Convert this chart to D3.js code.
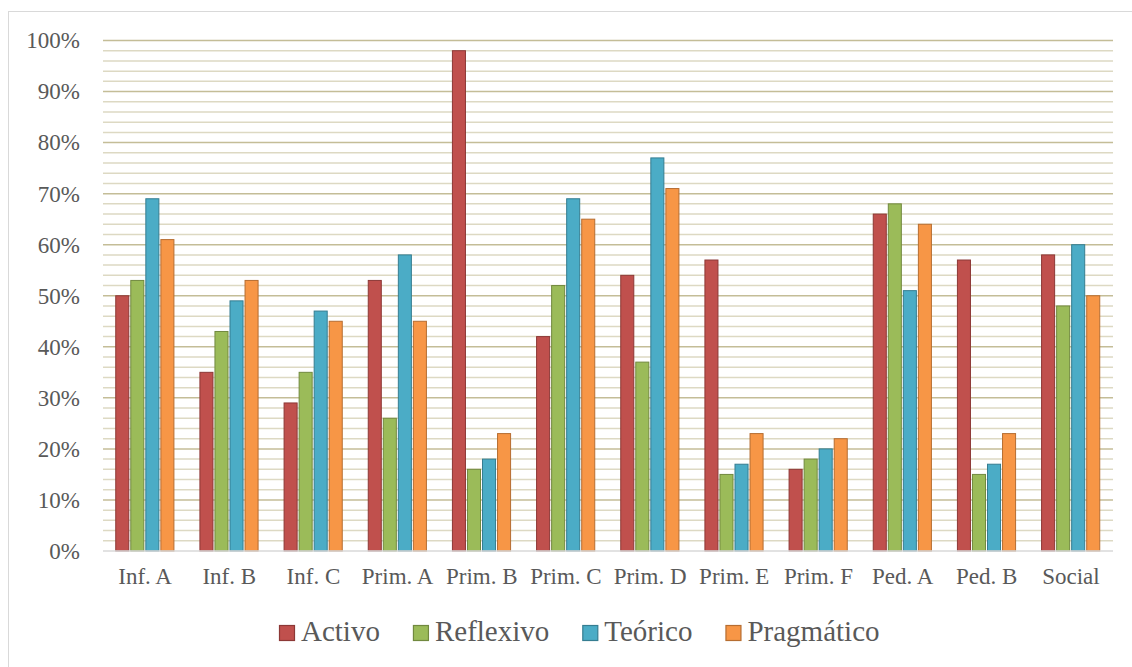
<html>
<head>
<meta charset="utf-8">
<script src="https://cdn.jsdelivr.net/npm/d3@7"></script>
<style>
body { margin: 0; background: #fff; }
svg text { font-family: 'Liberation Serif', serif; fill: #595959; }
</style>
</head>
<body>
<div id="chart"></div>
<script>
// data
var categories = ["Inf. A", "Inf. B", "Inf. C", "Prim. A", "Prim. B", "Prim. C",
                  "Prim. D", "Prim. E", "Prim. F", "Ped. A", "Ped. B", "Social"];
var seriesNames = ["Activo", "Reflexivo", "Teórico", "Pragmático"];
var activo     = [50, 35, 29, 53, 98, 42, 54, 57, 16, 66, 57, 58];
var reflexivo  = [53, 43, 35, 26, 16, 52, 37, 15, 18, 68, 15, 48];
var teorico    = [69, 49, 47, 58, 18, 69, 77, 17, 20, 51, 17, 60];
var pragmatico = [61, 53, 45, 45, 23, 65, 71, 23, 22, 64, 23, 50];
var yTicks = [0, 10, 20, 30, 40, 50, 60, 70, 80, 90, 100];

var fills   = ["#C0504D", "#9BBB59", "#4BACC6", "#F79646"];
var strokes = ["#8C3836", "#71893F", "#357D91", "#B66D31"];

var seriesValues = [activo, reflexivo, teorico, pragmatico];

var W = 1132, H = 667;
var pLeft = 103, pRight = 1113, pTop = 40.5, pBottom = 551;
var FONT = "'Liberation Serif', serif";

var svg = d3.select("#chart").append("svg")
    .attr("width", W).attr("height", H)
    .attr("font-family", FONT);

// chart border
svg.append("rect")
    .attr("x", 8.5).attr("y", 11.5)
    .attr("width", 1300).attr("height", 800)
    .style("fill", "none").style("stroke", "#d9d9d9");

var y = d3.scaleLinear().domain([0, 100]).range([pBottom, pTop]);
var x0 = d3.scaleBand().domain(categories).range([pLeft, pRight]).padding(0);
var bw = x0.bandwidth();
var x1 = d3.scaleBand().domain(seriesNames)
    .range([bw * 0.1426, bw * (1 - 0.1426)]).padding(0);

// minor + major gridlines
var minor = d3.range(2, 100, 2).filter(function(v){ return v % 10 != 0; });
svg.selectAll("line.minor").data(minor).enter().append("line")
    .attr("class", "minor")
    .attr("x1", pLeft).attr("x2", pRight)
    .attr("y1", function(d){ return y(d); }).attr("y2", function(d){ return y(d); })
    .style("stroke", "#DDD9C3").style("stroke-width", 1.5);

svg.selectAll("line.major").data(yTicks.slice(1)).enter().append("line")
    .attr("class", "major")
    .attr("x1", pLeft).attr("x2", pRight)
    .attr("y1", function(d){ return y(d); }).attr("y2", function(d){ return y(d); })
    .style("stroke", "#C4BD97").style("stroke-width", 1.5);

// y labels
var yAxis = d3.axisLeft(y).tickValues(yTicks).tickSize(0).tickPadding(23)
    .tickFormat(function(d){ return d + "%"; });
var gy = svg.append("g").attr("transform", "translate(" + pLeft + ",0)").call(yAxis)
    .attr("font-family", FONT).attr("font-size", 23);
gy.select(".domain").remove();
gy.selectAll("text").attr("fill", "#595959");

// bars
var groups = svg.selectAll("g.cat").data(categories).enter().append("g")
    .attr("class", "cat")
    .attr("transform", function(d){ return "translate(" + x0(d) + ",0)"; });

groups.selectAll("rect").data(function(d, i){
        return seriesNames.map(function(s, j){ return {s: s, j: j, v: seriesValues[j][i]}; });
    }).enter().append("rect")
    .attr("x", function(d){ return x1(d.s) + 0.75; })
    .attr("width", x1.bandwidth() - 2)
    .attr("y", function(d){ return y(d.v); })
    .attr("height", function(d){ return pBottom - y(d.v); })
    .style("fill", function(d){ return fills[d.j]; })
    .style("stroke", function(d){ return strokes[d.j]; })
    .style("stroke-width", 1);

// x axis
var xAxis = d3.axisBottom(x0).tickSize(0).tickPadding(17);
var gx = svg.append("g").attr("transform", "translate(0," + pBottom + ")").call(xAxis)
    .attr("font-family", FONT).attr("font-size", 23);
gx.select(".domain").remove();
gx.selectAll("text").attr("fill", "#595959");
svg.append("line")
    .attr("x1", pLeft).attr("x2", pRight).attr("y1", pBottom).attr("y2", pBottom)
    .style("stroke", "#D9D9D9").style("stroke-width", 1.5);

// legend
var legend = svg.append("g");
var lx = 279, gap = 33;
seriesNames.forEach(function(s, j){
    legend.append("rect")
        .attr("x", lx + 0.5).attr("y", 625.5).attr("width", 15).attr("height", 15)
        .style("fill", fills[j]).style("stroke", strokes[j]).style("stroke-width", 1.2);
    var t = legend.append("text")
        .attr("x", lx + 22).attr("y", 641)
        .attr("font-size", 29)
        .text(s);
    lx = lx + 22 + t.node().getComputedTextLength() + gap;
});
</script>
</body>
</html>
